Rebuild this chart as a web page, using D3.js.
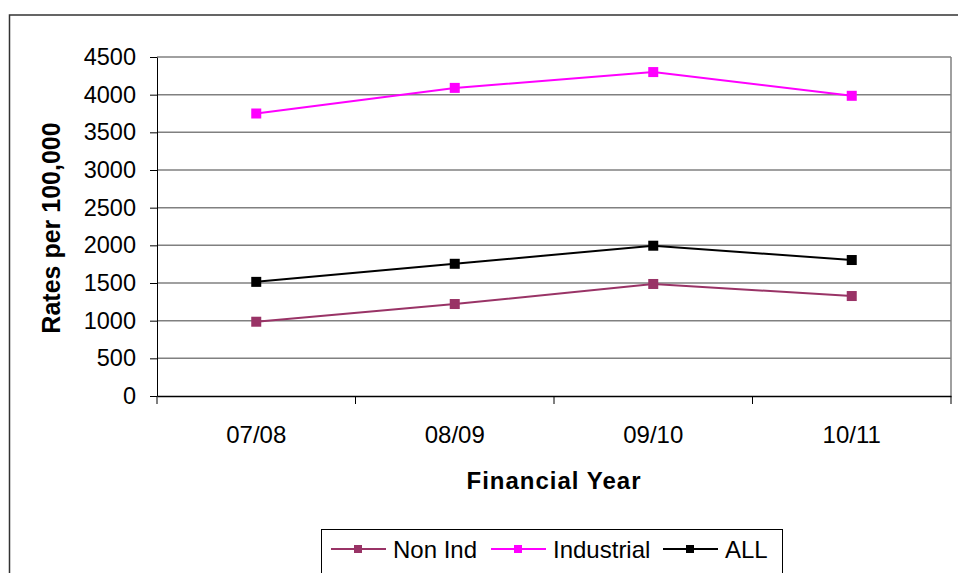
<!DOCTYPE html>
<html>
<head>
<meta charset="utf-8">
<script src="https://cdn.jsdelivr.net/npm/d3@7"></script>
<style>
  html, body { margin: 0; padding: 0; background: #fff; }
  svg { display: block; font-family: "Liberation Sans", Arial, sans-serif; }
</style>
</head>
<body>
<svg id="chart" width="958" height="573"></svg>
<script>
const categories = ["07/08", "08/09", "09/10", "10/11"];
const nonInd = [986, 1221, 1487, 1327];
const industrial = [3750, 4090, 4300, 3985];
const all = [1515, 1755, 1995, 1805];
const yTicks = [0, 500, 1000, 1500, 2000, 2500, 3000, 3500, 4000, 4500];
const seriesNames = ["Non Ind", "Industrial", "ALL"];
const seriesColors = ["#993366", "#FF00FF", "#000000"];

const series = [nonInd, industrial, all].map((v, i) => ({ name: seriesNames[i], values: v, color: seriesColors[i] }));

const FONT = "Liberation Sans, Arial, sans-serif";
const svg = d3.select("#chart");
const plot = { left: 157, right: 951, top: 57, bottom: 396 };

// outer chart frame
svg.append("rect").attr("x", 9.5).attr("y", 15).attr("width", 960).attr("height", 600)
  .attr("fill", "#fff").attr("stroke", "#333").attr("stroke-width", 1.5);

const x = d3.scaleBand().domain(categories).range([plot.left, plot.right]);
const y = d3.scaleLinear().domain([0, 4500]).range([plot.bottom, plot.top]);

// gridlines
svg.append("g").selectAll("line").data(yTicks.filter(d => d > 0)).join("line")
  .attr("x1", plot.left).attr("x2", plot.right)
  .attr("y1", d => y(d)).attr("y2", d => y(d))
  .attr("stroke", "#808080").attr("stroke-width", 1.5);

// plot right border
svg.append("line").attr("x1", plot.right).attr("x2", plot.right).attr("y1", plot.top).attr("y2", plot.bottom)
  .attr("stroke", "#808080").attr("stroke-width", 1.5);

// y axis
const yAxis = d3.axisLeft(y).tickValues(yTicks).tickFormat(d3.format("d"))
  .tickSize(7).tickPadding(14).tickSizeOuter(0);
const gy = svg.append("g").attr("transform", `translate(${plot.left},0)`).call(yAxis);
gy.attr("font-size", null).attr("font-family", null);
gy.select(".domain").attr("stroke", "#000").attr("stroke-width", 1);
gy.selectAll(".tick line").attr("stroke", "#000");
gy.selectAll("text").attr("font-size", 23.5).attr("fill", "#000").attr("font-family", FONT);

// x axis
const xAxis = d3.axisBottom(x).tickSize(0).tickPadding(0).tickSizeOuter(0);
const gx = svg.append("g").attr("transform", `translate(0,${plot.bottom})`).call(xAxis);
gx.attr("font-size", null).attr("font-family", null);
gx.select(".domain").attr("stroke", "#000").attr("stroke-width", 1.5);
gx.selectAll("text").attr("font-size", 24).attr("fill", "#000").attr("font-family", FONT)
  .attr("y", 47).attr("dy", 0);
// category boundary ticks
const bounds = categories.map(c => x(c)).concat([x(categories[categories.length - 1]) + x.bandwidth()]);
gx.append("g").selectAll("line").data(bounds).join("line")
  .attr("x1", d => d).attr("x2", d => d).attr("y1", 0).attr("y2", 8)
  .attr("stroke", "#000");

// axis titles
svg.append("text").attr("x", (plot.left + plot.right) / 2).attr("y", 489)
  .attr("text-anchor", "middle").attr("font-size", 24).attr("font-weight", "bold")
  .attr("letter-spacing", 1).text("Financial Year");
svg.append("text").attr("transform", `translate(60,228) rotate(-90)`)
  .attr("text-anchor", "middle").attr("font-size", 25).attr("font-weight", "bold")
  .text("Rates per 100,000");

// lines + markers
const cx = c => x(c) + x.bandwidth() / 2;
const line = d3.line().x((d, i) => cx(categories[i])).y(d => y(d));
series.forEach(s => {
  svg.append("path").datum(s.values).attr("d", line)
    .attr("fill", "none").attr("stroke", s.color).attr("stroke-width", 2);
  svg.append("g").selectAll("rect").data(s.values).join("rect")
    .attr("x", (d, i) => cx(categories[i]) - 5).attr("y", d => y(d) - 5)
    .attr("width", 10).attr("height", 10).attr("fill", s.color);
});

// legend
const lg = svg.append("g");
lg.append("rect").attr("x", 321.5).attr("y", 529.5).attr("width", 461).attr("height", 60)
  .attr("fill", "#fff").attr("stroke", "#000").attr("stroke-width", 1);
const legendX = [331, 491, 663];
const legendY = 549;
series.forEach((s, i) => {
  const lx = legendX[i];
  lg.append("line").attr("x1", lx).attr("x2", lx + 55).attr("y1", legendY).attr("y2", legendY)
    .attr("stroke", s.color).attr("stroke-width", 2);
  lg.append("rect").attr("x", lx + 23).attr("y", legendY - 4).attr("width", 8).attr("height", 8).attr("fill", s.color);
  lg.append("text").attr("x", lx + 62).attr("y", legendY + 8.5).attr("font-size", 24).text(s.name);
});
</script>
</body>
</html>
